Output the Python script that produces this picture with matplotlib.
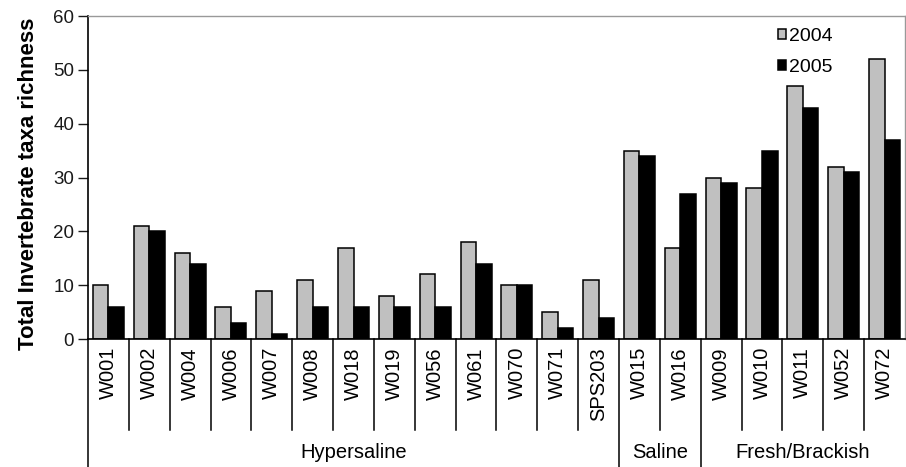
import matplotlib
matplotlib.use('Agg')
import matplotlib.pyplot as plt
import matplotlib.transforms as mtransforms
import numpy as np

plt.rcParams['font.family'] = ['Liberation Sans', 'DejaVu Sans']

sites = ['W001', 'W002', 'W004', 'W006', 'W007', 'W008', 'W018', 'W019', 'W056',
         'W061', 'W070', 'W071', 'SPS203', 'W015', 'W016', 'W009', 'W010', 'W011',
         'W052', 'W072']
rich_2004 = [10, 21, 16, 6, 9, 11, 17, 8, 12, 18, 10, 5, 11, 35, 17, 30, 28, 47, 32, 52]
rich_2005 = [6, 20, 14, 3, 1, 6, 6, 6, 6, 14, 10, 2, 4, 34, 27, 29, 35, 43, 31, 37]
groups = ['Hypersaline', 'Saline', 'Fresh/Brackish']
group_sizes = [13, 2, 5]

fig = plt.figure(figsize=(9.06, 4.67), dpi=100)
ax = fig.add_axes([0.0971, 0.274, 0.9018, 0.6916])

x = np.arange(len(sites))
w = 0.38
ax.bar(x - w / 2, rich_2004, w, color='#c0c0c0', edgecolor='black', linewidth=1.1, label='2004')
ax.bar(x + w / 2, rich_2005, w, color='black', edgecolor='black', linewidth=1.1, label='2005')

ax.set_xlim(-0.5, len(sites) - 0.5)
ax.set_ylim(0, 60)
ax.set_yticks(range(0, 61, 10))
ax.tick_params(axis='y', labelsize=13.5, length=7, width=1, pad=3, colors='#1a1a1a')
ax.set_xticks([])
ax.set_ylabel('Total Invertebrate taxa richness', fontsize=16, fontweight='bold')
ax.yaxis.set_label_coords(-0.060, 0.48)

for side in ['top', 'right']:
    ax.spines[side].set_color('#999999')
    ax.spines[side].set_linewidth(1.0)
for side in ['left', 'bottom']:
    ax.spines[side].set_color('black')
    ax.spines[side].set_linewidth(1.2)

trans = mtransforms.blended_transform_factory(ax.transData, ax.transAxes)

# site labels below the axis
for i, s in enumerate(sites):
    ax.text(i, -0.025, s, transform=trans, rotation=90, ha='center', va='top', fontsize=14.5)

# separators between sites, longer ones between groups
bounds = np.cumsum([0] + group_sizes)
for i in range(len(sites)):
    xb = i - 0.5
    bottom = -0.40 if i in bounds else -0.282
    ax.plot([xb, xb], [0, bottom], transform=trans, color='black', lw=1.1, clip_on=False)

for g, a, b in zip(groups, bounds[:-1], bounds[1:]):
    ax.text((a + b - 1) / 2, -0.35, g, transform=trans, ha='center', va='center', fontsize=14.5)

leg = ax.legend(loc='upper left', bbox_to_anchor=(0.845, 0.962), frameon=False, fontsize=14,
                handlelength=0.4, handleheight=0.4, handletextpad=0.15, labelspacing=0.7,
                borderpad=0, borderaxespad=0)

fig.savefig('out.png', dpi=100)
